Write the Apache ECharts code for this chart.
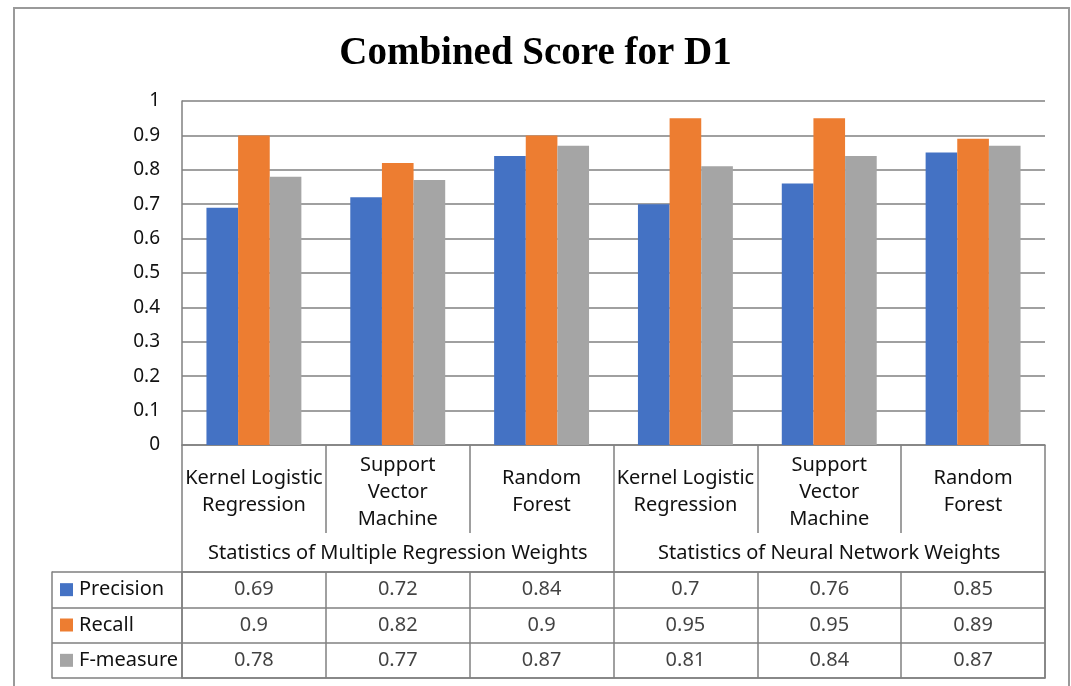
<!DOCTYPE html>
<html>
<head>
<meta charset="utf-8">
<script src="https://cdn.jsdelivr.net/npm/echarts@6/dist/echarts.min.js"></script>
<style>
  html, body { margin: 0; padding: 0; background: #fff; }
  #chart { width: 1071px; height: 686px; }
</style>
</head>
<body>
<div id="chart"></div>
<script>
// ---- data ----
const categories = [
  'Kernel Logistic\nRegression', 'Support\nVector\nMachine', 'Random\nForest',
  'Kernel Logistic\nRegression', 'Support\nVector\nMachine', 'Random\nForest'
];
const groups = ['Statistics of Multiple Regression Weights', 'Statistics of Neural Network Weights'];
const seriesNames = ['Precision', 'Recall', 'F-measure'];
const precision = [0.69, 0.72, 0.84, 0.7, 0.76, 0.85];
const recall    = [0.9, 0.82, 0.9, 0.95, 0.95, 0.89];
const fmeasure  = [0.78, 0.77, 0.87, 0.81, 0.84, 0.87];
const titleText = 'Combined Score for D1';

// ---- styles ----
const colors = ['#4472C4', '#ED7D31', '#A5A5A5'];
const lineCol = '#808080';
const txtCol = '#111';
const font = 'Noto Sans';
const seriesValues = [precision, recall, fmeasure];

const tableData = [];
seriesValues.forEach((vals, r) => vals.forEach((v, c) => tableData.push([c, r, v])));

const rich = { t: { fontSize: 20, fontFamily: font, color: txtCol, padding: [0, 0, 0, 6] } };
colors.forEach((c, i) => { rich['sq' + i] = { width: 13, height: 13, backgroundColor: c }; });

const chart = echarts.init(document.getElementById('chart'), null, { renderer: 'canvas' });
chart.setOption({
  animation: false,
  backgroundColor: '#fff',
  title: {
    text: titleText, left: 'center', top: 29,
    textStyle: { fontFamily: 'Liberation Serif', fontWeight: 'bold', fontSize: 39, color: '#000' }
  },
  graphic: [{
    type: 'rect', z: -1, silent: true,
    shape: { x: 14, y: 8, width: 1055, height: 700 },
    style: { fill: 'none', stroke: '#9a9a9a', lineWidth: 2 }
  }],
  grid: [
    { left: 182, right: 26, top: 101, height: 344 },
    { left: 182, right: 26, top: 572, height: 106 }
  ],
  xAxis: [
    {
      gridIndex: 0, type: 'category', data: categories, position: 'bottom',
      axisLine: { show: true, lineStyle: { color: lineCol, width: 1.5 } },
      axisTick: { show: true, interval: 0, length: 88, lineStyle: { color: lineCol, width: 1.5 } },
      axisLabel: { interval: 0, margin: 47, verticalAlign: 'middle', lineHeight: 27,
                   fontSize: 20, fontFamily: font, color: txtCol },
      splitLine: { show: false }
    },
    {
      gridIndex: 0, type: 'category', data: groups, position: 'bottom',
      axisLine: { show: false },
      axisTick: { show: true, interval: 0, length: 127, lineStyle: { color: lineCol, width: 1.5 } },
      axisLabel: { interval: 0, margin: 108, verticalAlign: 'middle',
                   fontSize: 20, fontFamily: font, color: txtCol },
      splitLine: { show: false }
    },
    {
      gridIndex: 1, type: 'category', data: categories, position: 'top',
      axisLine: { show: true, lineStyle: { color: lineCol, width: 1.5 } },
      axisTick: { show: false }, axisLabel: { show: false },
      splitLine: { show: true, interval: 0, lineStyle: { color: lineCol, width: 1.5 } }
    },
    {
      gridIndex: 1, type: 'category', data: categories, position: 'bottom',
      axisLine: { show: true, lineStyle: { color: lineCol, width: 1.5 } },
      axisTick: { show: false }, axisLabel: { show: false }, splitLine: { show: false }
    }
  ],
  yAxis: [
    {
      gridIndex: 0, type: 'value', min: 0, max: 1, interval: 0.1,
      axisLine: { show: true, lineStyle: { color: lineCol, width: 1.5 } },
      axisTick: { show: false },
      axisLabel: { margin: 22, fontSize: 19, fontFamily: font, color: txtCol },
      splitLine: { show: true, lineStyle: { color: lineCol, width: 1.5 } }
    },
    {
      gridIndex: 1, type: 'category', data: seriesNames, inverse: true, position: 'left',
      axisLine: { show: true, lineStyle: { color: lineCol, width: 1.5 } },
      axisTick: { show: true, interval: 0, length: 130, lineStyle: { color: lineCol, width: 1.5 } },
      axisLabel: {
        interval: 0, margin: 122, align: 'left', rich: rich,
        formatter: (v, i) => '{sq' + i + '| }{t|' + v + '}'
      },
      splitLine: { show: true, interval: 0, lineStyle: { color: lineCol, width: 1.5 } }
    },
    {
      gridIndex: 1, type: 'category', data: seriesNames, inverse: true, position: 'left', offset: 130,
      axisLine: { show: true, lineStyle: { color: lineCol, width: 1.5 } },
      axisTick: { show: false }, axisLabel: { show: false }, splitLine: { show: false }
    },
    {
      gridIndex: 1, type: 'category', data: seriesNames, inverse: true, position: 'right',
      axisLine: { show: true, lineStyle: { color: lineCol, width: 1.5 } },
      axisTick: { show: false }, axisLabel: { show: false }, splitLine: { show: false }
    }
  ],
  series: seriesValues.map((vals, i) => ({
    name: seriesNames[i], type: 'bar', xAxisIndex: 0, yAxisIndex: 0,
    data: vals, barGap: '0%', barCategoryGap: '34%',
    itemStyle: { color: colors[i] }
  })).concat([{
    name: 'table', type: 'scatter', xAxisIndex: 2, yAxisIndex: 1,
    data: tableData, symbolSize: 1,
    itemStyle: { color: 'rgba(0,0,0,0)' },
    label: {
      show: true, position: 'inside', fontSize: 20, fontFamily: font, color: txtCol,
      formatter: p => String(p.value[2])
    }
  }])
});
</script>
</body>
</html>
